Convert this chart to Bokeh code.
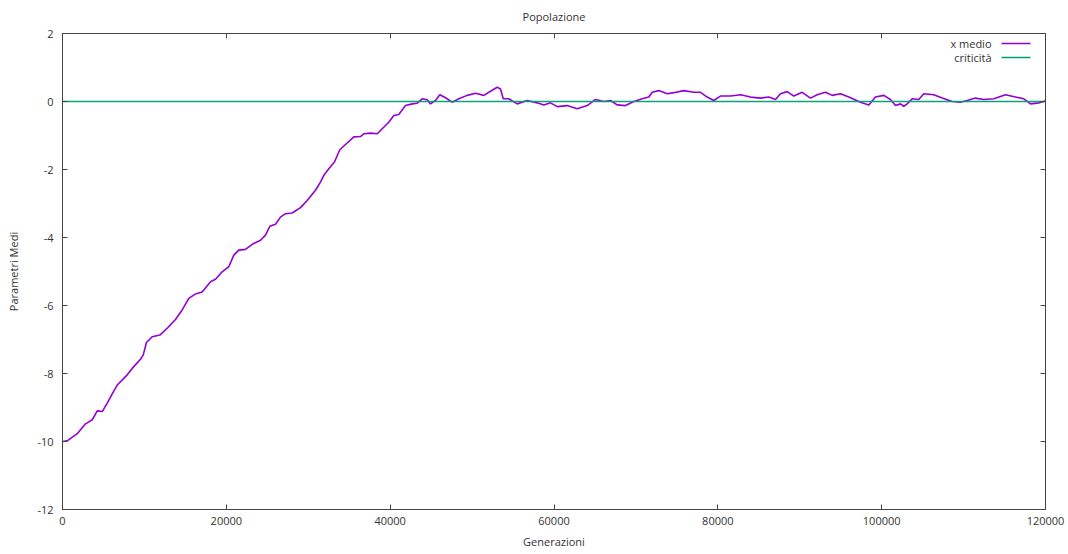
from bokeh.plotting import figure
from bokeh.models import Range1d, LinearAxis, Label, FixedTicker, CustomLabelingPolicy
from bokeh.embed import file_html
from bokeh.resources import INLINE

# ---- data ----
generazioni = [0, 570, 1800, 2810, 3630, 4240, 4850, 5460, 6070, 6680, 7900, 8510, 9520, 9850,
               10250, 10950, 11880, 12780, 13790, 14610, 15420, 16240, 17050, 18070, 18680,
               19490, 20300, 20910, 21520, 22340, 23160, 24170, 24780, 25310, 26000, 26610,
               27220, 28040, 29050, 29870, 30880, 31490, 31900, 32510, 33200, 33850, 34750,
               35560, 36380, 36780, 37600, 38420, 39030, 39830, 40440, 41050, 41870, 42690,
               43300, 43910, 44520, 44920, 45530, 46060, 46760, 47570, 48380, 49400, 50420,
               51430, 52250, 53070, 53470, 53800, 54480, 55510, 56730, 57950, 58760, 59570,
               60390, 61610, 62830, 64050, 65070, 66080, 66900, 67710, 68730, 69740, 70770,
               71570, 71990, 72790, 73820, 74620, 75840, 77060, 77880, 78700, 79500, 80320,
               81540, 82770, 83990, 85210, 86220, 87040, 87650, 88470, 89270, 90300, 91310,
               92130, 93140, 93960, 94970, 95990, 97410, 98430, 99240, 100260, 101070, 101690,
               102300, 102700, 103110, 103720, 104530, 105140, 106360, 107390, 108610, 109620,
               110440, 111450, 112470, 113690, 115120, 116340, 117350, 118170, 119180, 119790,
               120000]
x_medio = [-10.0, -9.98, -9.77, -9.48, -9.36, -9.10, -9.12, -8.87, -8.60, -8.34, -8.04, -7.85,
           -7.58, -7.46, -7.09, -6.92, -6.87, -6.67, -6.41, -6.13, -5.79, -5.66, -5.60, -5.30,
           -5.23, -5.01, -4.86, -4.52, -4.37, -4.35, -4.20, -4.08, -3.93, -3.67, -3.61, -3.40,
           -3.30, -3.28, -3.12, -2.91, -2.61, -2.37, -2.17, -1.98, -1.78, -1.42, -1.22, -1.04,
           -1.03, -0.95, -0.93, -0.95, -0.80, -0.61, -0.41, -0.38, -0.12, -0.07, -0.05, 0.08,
           0.05, -0.07, 0.03, 0.20, 0.11, -0.02, 0.08, 0.18, 0.24, 0.18, 0.30, 0.42, 0.37, 0.08,
           0.08, -0.07, 0.03, -0.04, -0.10, -0.04, -0.15, -0.12, -0.21, -0.12, 0.06, 0.00, 0.03,
           -0.10, -0.12, 0.00, 0.08, 0.13, 0.27, 0.32, 0.23, 0.26, 0.32, 0.27, 0.27, 0.13, 0.03,
           0.16, 0.16, 0.20, 0.13, 0.10, 0.13, 0.06, 0.23, 0.29, 0.16, 0.27, 0.10, 0.20, 0.27,
           0.18, 0.23, 0.13, -0.02, -0.10, 0.13, 0.18, 0.06, -0.12, -0.07, -0.14, -0.07, 0.08,
           0.06, 0.23, 0.20, 0.10, 0.00, -0.02, 0.03, 0.10, 0.06, 0.08, 0.20, 0.13, 0.08, -0.07,
           -0.04, 0.00, 0.02]
criticita_x = [0, 60000, 120000]
criticita_y = [0, 0, 0]

x_ticks = [0, 20000, 40000, 60000, 80000, 100000, 120000]
x_tick_labels = ["0", "20000", "40000", "60000", "80000", "100000", "120000"]
y_ticks = [-12, -10, -8, -6, -4, -2, 0, 2]
y_tick_labels = ["-12", "-10", "-8", "-6", "-4", "-2", "0", "2"]

titolo = "Popolazione"
x_label = "Generazioni"
y_label = "Parametri Medi"
legend_labels = ["x medio", "criticità"]

# ---- styling ----
FONT = "Open Sans"
PURPLE = "#9400d3"
GREEN = "#009e73"
AX = "#444444"
TXT = "#333333"
TICK_PX = 5

X0, X1, Y0, Y1 = 0, 120000, -12, 2
FL, FR, FT, FB = 62, 1045, 33, 509   # frame pixel edges
DX = (X1 - X0) / (FR - FL)           # data units per pixel
DY = (Y1 - Y0) / (FB - FT)


def px_to_x(px):
    return X0 + (px - FL) * DX


def py_to_y(py):
    return Y1 - (py - FT) * DY


p = figure(width=1068, height=554, output_backend="svg", toolbar_location=None,
           x_range=Range1d(X0, X1), y_range=Range1d(Y0, Y1),
           min_border_left=FL, min_border_right=1068 - FR,
           min_border_top=FT, min_border_bottom=554 - FB)
p.background_fill_color = "white"
p.border_fill_color = "white"
p.xgrid.visible = False
p.ygrid.visible = False
p.outline_line_color = AX
p.outline_line_width = 1

p.title.text = titolo
p.title.align = "center"
p.title.text_font = FONT
p.title.text_font_size = "11px"
p.title.text_font_style = "normal"
p.title.text_color = TXT
p.title.standoff = 12

for ax, ticks, labels in ((p.xaxis[0], x_ticks, x_tick_labels),
                          (p.yaxis[0], y_ticks, y_tick_labels)):
    ax.ticker = FixedTicker(ticks=ticks)
    ax.major_label_overrides = {t: s for t, s in zip(ticks, labels)}
    ax.major_tick_in = TICK_PX
    ax.major_tick_out = 0
    ax.minor_tick_in = 0
    ax.minor_tick_out = 0
    ax.axis_line_color = AX
    ax.major_tick_line_color = AX
    ax.major_label_text_font = FONT
    ax.major_label_text_font_size = "11px"
    ax.major_label_text_color = TXT
    ax.axis_label_text_font = FONT
    ax.axis_label_text_font_size = "11px"
    ax.axis_label_text_font_style = "normal"
    ax.axis_label_text_color = TXT

p.xaxis[0].axis_label = x_label
p.yaxis[0].axis_label = y_label
p.xaxis[0].major_label_standoff = 7
p.yaxis[0].major_label_standoff = 9
p.xaxis[0].axis_label_standoff = 6
p.yaxis[0].axis_label_standoff = 13

# mirror ticks on top and right (gnuplot style), with every label suppressed
hide_all = "for (const i of Array.from(indices)) indices.unset(i)"
for loc, ticks in (("above", x_ticks), ("right", y_ticks)):
    m = LinearAxis(ticker=FixedTicker(ticks=ticks))
    m.major_label_policy = CustomLabelingPolicy(code=hide_all)
    m.major_tick_in = TICK_PX
    m.major_tick_out = 0
    m.minor_tick_in = 0
    m.minor_tick_out = 0
    m.axis_line_color = AX
    m.major_tick_line_color = AX
    m.major_label_text_font_size = "1px"
    m.major_label_standoff = 0
    p.add_layout(m, loc)

# series: x medio, then criticità on top (gnuplot order)
p.line(generazioni, x_medio, line_color=PURPLE, line_width=1.6)
p.line(criticita_x, criticita_y, line_color=GREEN, line_width=1.3, line_alpha=0.95)

# legend (gnuplot style: text then sample line)
rows = [(43, PURPLE), (57, GREEN)]
for (py, col), lab in zip(rows, legend_labels):
    p.add_layout(Label(x=px_to_x(991), y=py_to_y(py), text=lab, text_align="right",
                       text_baseline="middle", text_font=FONT, text_font_size="11px",
                       text_color=TXT))
    p.segment(x0=[px_to_x(1001)], y0=[py_to_y(py)], x1=[px_to_x(1030)], y1=[py_to_y(py)],
              line_color=col, line_width=1.4)

open("out.html", "w").write(file_html(p, INLINE))
